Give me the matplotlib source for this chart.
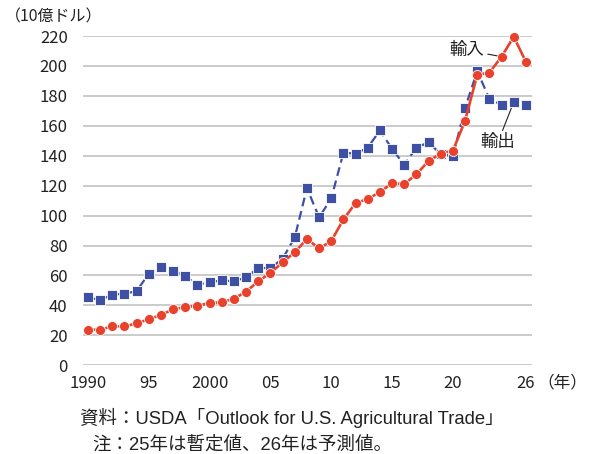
"""
米国の農産物輸出入額の推移
"""

import matplotlib
matplotlib.use("Agg")
import matplotlib.pyplot as plt

plt.rcParams["font.family"] = ["Noto Sans CJK JP", "DejaVu Sans"]

years = list(range(1990, 2027))
exports = [45.4, 43.6, 47.2, 47.8, 49.6, 61.2, 65.7, 63.2, 59.4, 53.8,
           55.4, 56.8, 56.1, 58.8, 65.0, 65.0, 71.2, 85.5, 118.4, 98.8,
           111.5, 142.0, 141.4, 145.4, 157.0, 144.5, 134.0, 145.4, 149.0, 141.0,
           139.8, 171.9, 196.6, 177.9, 174.1, 175.9, 174.1]
imports = [23.8, 23.8, 26.0, 26.0, 28.0, 30.7, 33.6, 37.4, 38.9, 39.8,
           41.6, 42.1, 44.5, 49.2, 56.1, 61.7, 68.8, 75.5, 84.4, 78.1,
           83.0, 97.5, 108.4, 111.1, 115.8, 121.6, 121.1, 127.6, 136.5, 141.4,
           143.4, 163.4, 194.1, 195.5, 206.2, 219.5, 202.8]
xticks = [1990, 1995, 2000, 2005, 2010, 2015, 2020, 2026]
xticklabels = ["1990", "95", "2000", "05", "10", "15", "20", "26"]
yticks = list(range(0, 221, 20))

red = "#e8412c"
blue = "#3e50a4"
ink = "#222222"

fig = plt.figure(figsize=(5.89, 4.54), dpi=100)
ax = fig.add_axes([0.1409, 0.1954, 0.7623, 0.7253])

ax.plot(years, exports, color=blue, lw=1.6, ls=(0, (4, 2.2)), marker="s",
        ms=6.5, mfc=blue, mec="white", mew=0.6, zorder=3, clip_on=False)
ax.plot(years, imports, color=red, lw=1.9, marker="o",
        ms=7.2, mfc=red, mec="white", mew=0.6, zorder=4, clip_on=False)

ax.set_xlim(1989.59, 2026.5)
ax.set_ylim(0, 220)
ax.set_yticks(yticks)
ax.set_xticks(xticks)
ax.set_xticklabels(xticklabels)
ax.grid(axis="y", color="#bdbdbd", lw=1.1)
ax.set_axisbelow(True)
for s in ax.spines.values():
    s.set_visible(False)
ax.tick_params(axis="y", length=0, pad=11, labelsize=12, labelcolor=ink)
ax.tick_params(axis="x", length=0, pad=7, labelsize=12, labelcolor=ink)

ax.annotate("輸入", xy=(2024, imports[34]), xytext=(2021.1, 210.5),
            fontsize=12.5, color=ink, ha="center", va="center", zorder=2.5,
            arrowprops=dict(arrowstyle="-", color=ink, lw=0.8,
                            shrinkA=1, shrinkB=0))
ax.annotate("輸出", xy=(2025, exports[35]), xytext=(2023.7, 149),
            fontsize=12.5, color=ink, ha="center", va="center", zorder=2.5,
            arrowprops=dict(arrowstyle="-", color=ink, lw=0.8,
                            shrinkA=0, shrinkB=0))

fig.text(0.008, 0.963, "（10億ドル）", fontsize=11.5, color=ink, va="center")
fig.text(0.997, 0.157, "（年）", fontsize=12, color=ink, va="center", ha="right")
fig.text(0.136, 0.079, "資料：USDA「Outlook for U.S. Agricultural Trade」",
         fontsize=13.3, color=ink, va="center",
         family=["Liberation Sans", "Noto Sans CJK JP"])
fig.text(0.157, 0.020, "注：25年は暫定値、26年は予測値。",
         fontsize=13.3, color=ink, va="center",
         family=["Liberation Sans", "Noto Sans CJK JP"])

fig.savefig("out.png", dpi=100)
